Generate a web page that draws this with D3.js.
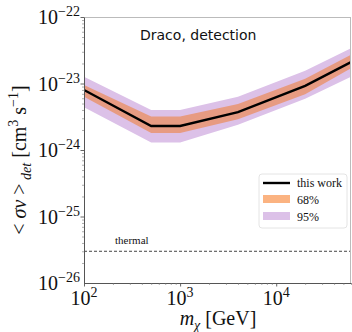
<!DOCTYPE html>
<html>
<head>
<meta charset="utf-8">
<script src="https://cdn.jsdelivr.net/npm/d3@7"></script>
<style>
  body { margin: 0; background: #fff; }
  svg text { font-family: "Liberation Serif", "Times New Roman", serif; fill: #111; }
</style>
</head>
<body>
<svg id="chart" width="352" height="332"></svg>
<script>
// data
const mass    = [100, 500, 1000, 4000, 20000, 60000];
const median  = [8.0e-24, 2.3e-24, 2.3e-24, 3.7e-24, 9.2e-24, 2.1e-23];
const lo68    = [6.3e-24, 1.8e-24, 1.8e-24, 2.9e-24, 6.9e-24, 1.7e-23];
const hi68    = [9.5e-24, 3.2e-24, 3.2e-24, 4.9e-24, 1.18e-23, 2.7e-23];
const lo95    = [4.4e-24, 1.3e-24, 1.3e-24, 2.4e-24, 5.9e-24, 1.26e-23];
const hi95    = [1.26e-23, 4.0e-24, 4.0e-24, 6.3e-24, 1.55e-23, 3.4e-23];
const thermal = 3e-26;
const xTicks = [2, 3, 4];        // exponents
const yTicks = [-22, -23, -24, -25, -26];

const MARGIN = {TOP: 17, LEFT: 84, RIGHT: 1, BOTTOM: 49};
const W = 352, H = 332;
const svg = d3.select("#chart");

const xScale = d3.scaleLog().domain([100, 60000]).range([MARGIN.LEFT, W - MARGIN.RIGHT]);
const yScale = d3.scaleLog().domain([1e-26, 1e-22]).range([H - MARGIN.BOTTOM, MARGIN.TOP]);

const rows = mass.map((m, i) => ({m, med: median[i], l68: lo68[i], h68: hi68[i], l95: lo95[i], h95: hi95[i]}));

svg.append("clipPath").attr("id", "clip").append("rect")
  .attr("x", MARGIN.LEFT).attr("y", MARGIN.TOP)
  .attr("width", W - MARGIN.RIGHT - MARGIN.LEFT).attr("height", H - MARGIN.BOTTOM - MARGIN.TOP);

const plot = svg.append("g").attr("clip-path", "url(#clip)");

// bands
const area95 = d3.area().x(d => xScale(d.m)).y0(d => yScale(d.l95)).y1(d => yScale(d.h95));
const area68 = d3.area().x(d => xScale(d.m)).y0(d => yScale(d.l68)).y1(d => yScale(d.h68));
plot.append("path").datum(rows).attr("d", area95).attr("fill", "#dcc1e8");
plot.append("path").datum(rows).attr("d", area68).attr("fill", "#e79b82");

// median line
plot.append("path").datum(rows)
  .attr("d", d3.line().x(d => xScale(d.m)).y(d => yScale(d.med)))
  .attr("fill", "none").attr("stroke", "#000").attr("stroke-width", 2.4);

// thermal line
plot.append("line")
  .attr("x1", MARGIN.LEFT).attr("x2", W - MARGIN.RIGHT)
  .attr("y1", yScale(thermal)).attr("y2", yScale(thermal))
  .attr("stroke", "#444").attr("stroke-width", 1).attr("stroke-dasharray", "3,2");
svg.append("text").attr("x", 115).attr("y", yScale(thermal) - 7)
  .attr("font-size", 11).text("thermal");

// frame
const x0 = MARGIN.LEFT, x1 = W - MARGIN.RIGHT, y0 = MARGIN.TOP, y1 = H - MARGIN.BOTTOM;
svg.append("line").attr("x1", x0).attr("x2", x1).attr("y1", y0 + 0.5).attr("y2", y0 + 0.5).attr("stroke", "#bbb");
svg.append("line").attr("x1", x1 - 0.5).attr("x2", x1 - 0.5).attr("y1", y0).attr("y2", y1).attr("stroke", "#bbb");

// axes
const xAxis = svg.append("g").attr("transform", "translate(0," + y1 + ")")
  .call(d3.axisBottom(xScale).tickValues(xScale.ticks()).tickFormat("").tickSizeInner(2).tickSizeOuter(0));
const yAxis = svg.append("g").attr("transform", "translate(" + x0 + ",0)")
  .call(d3.axisLeft(yScale).tickValues(yScale.ticks()).tickFormat("").tickSizeInner(2).tickSizeOuter(0));
[xAxis, yAxis].forEach(a => {
  a.select(".domain").attr("stroke", "#555");
  a.selectAll(".tick line").attr("stroke", "#777").attr("stroke-width", 0.6);
});
// major ticks
const isDecade = d => Math.abs(Math.log10(d) - Math.round(Math.log10(d))) < 1e-6;
xAxis.selectAll(".tick").filter(isDecade)
  .select("line").attr("y2", 3.5).attr("stroke", "#555").attr("stroke-width", 0.9);
yAxis.selectAll(".tick").filter(isDecade)
  .select("line").attr("x2", -3.5).attr("stroke", "#555").attr("stroke-width", 0.9);

// tick labels
xTicks.forEach(e => {
  const t = svg.append("text").attr("x", xScale(Math.pow(10, e))).attr("y", y1 + 22)
    .attr("text-anchor", "middle").attr("font-size", 20);
  t.append("tspan").text("10");
  t.append("tspan").attr("dy", -8).attr("font-size", 14).text(e);
});
yTicks.forEach(e => {
  const t = svg.append("text").attr("x", x0 - 4).attr("y", yScale(Math.pow(10, e)) + 7)
    .attr("text-anchor", "end").attr("font-size", 20);
  t.append("tspan").text("10");
  t.append("tspan").attr("dy", -8).attr("font-size", 14).text("\u2212" + Math.abs(e));
});

// axis titles
const xl = svg.append("text").attr("x", 218).attr("y", 325).attr("text-anchor", "middle").attr("font-size", 20);
xl.append("tspan").attr("font-style", "italic").text("m");
xl.append("tspan").attr("dy", 5).attr("font-size", 14).attr("font-style", "italic").text("\u03c7");
xl.append("tspan").attr("dy", -5).text(" [GeV]");

const yl = svg.append("text").attr("transform", "translate(26,160) rotate(-90)")
  .attr("text-anchor", "middle").attr("font-size", 20);
yl.append("tspan").text("< ");
yl.append("tspan").attr("font-style", "italic").text("\u03c3v");
yl.append("tspan").text(" >");
yl.append("tspan").attr("dy", 5).attr("font-size", 14).attr("font-style", "italic").text(" det");
yl.append("tspan").attr("dy", -5).text(" [cm");
yl.append("tspan").attr("dy", -8).attr("font-size", 14).text("3");
yl.append("tspan").attr("dy", 8).text(" s");
yl.append("tspan").attr("dy", -8).attr("font-size", 14).text("\u22121");
yl.append("tspan").attr("dy", 8).text("]");

// annotation
svg.append("text").attr("x", 140).attr("y", 40)
  .style("font-family", "'DejaVu Sans', Verdana, sans-serif").attr("font-size", 14).text("Draco, detection");

// legend
const lg = svg.append("g").attr("transform", "translate(259,174)");
lg.append("rect").attr("width", 88).attr("height", 54).attr("rx", 3)
  .attr("fill", "#fff").attr("stroke", "#ddd").attr("stroke-width", 0.8);
lg.append("line").attr("x1", 4).attr("x2", 31).attr("y1", 9).attr("y2", 9).attr("stroke", "#000").attr("stroke-width", 2.4);
lg.append("rect").attr("x", 4).attr("y", 21).attr("width", 27).attr("height", 8).attr("fill", "#fbb381");
lg.append("rect").attr("x", 4).attr("y", 38).attr("width", 27).attr("height", 8).attr("fill", "#dcc1e8");
const labels = ["this work", "68%", "95%"];
labels.forEach((s, i) => {
  lg.append("text").attr("x", 38).attr("y", 13 + i * 17).attr("font-size", 12).text(s);
});
</script>
</body>
</html>
